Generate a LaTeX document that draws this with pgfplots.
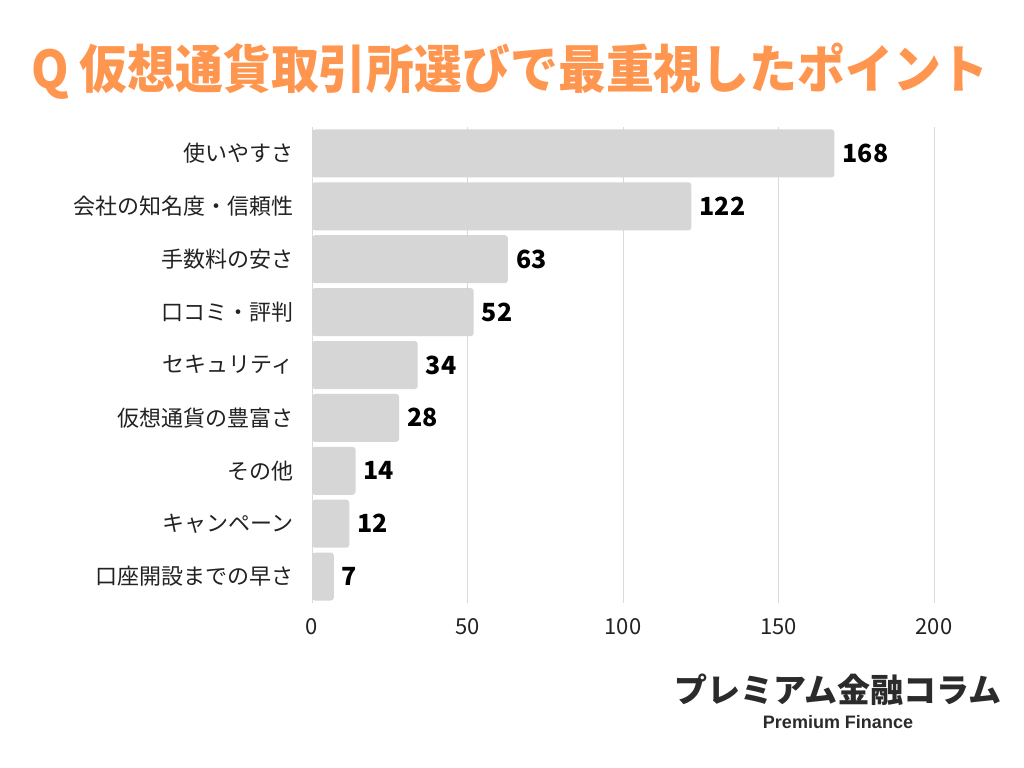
\documentclass[border=0pt]{standalone}
\usepackage{fontspec}
\setmainfont{Noto Sans CJK JP}
\newfontfamily\titlefont[FakeStretch=0.92]{Noto Sans CJK JP}
\newfontfamily\latinfont{Liberation Sans}
\usepackage{pgfplots}
\pgfplotsset{compat=1.18}
\definecolor{titleorange}{HTML}{FF9650}
\definecolor{barfill}{HTML}{D6D6D6}
\definecolor{gridcol}{HTML}{D9D9D9}
\definecolor{darktext}{HTML}{222222}
\definecolor{logotext}{HTML}{2B2B2B}
\begin{document}
\begin{tikzpicture}
\fill[white] (0bp,0bp) rectangle (1024bp,-768bp);
\node[anchor=center,inner sep=0pt,text=titleorange] at (510bp,-71bp)
  {\titlefont\bfseries\fontsize{52bp}{58bp}\selectfont Q 仮想通貨取引所選びで最重視したポイント};
\begin{axis}[
  at={(312bp,-603bp)}, anchor=south west,
  scale only axis, width=622bp, height=476bp,
  xbar, y dir=reverse,
  bar width=48bp,
  xmin=0, xmax=200, ymin=-0.5, ymax=8.5,
  enlargelimits=false,
  axis line style={draw=none},
  tick style={draw=none},
  xmajorgrids, grid style={color=gridcol, line width=1bp},
  xtick={0,50,100,150,200},
  ytick={0,1,2,3,4,5,6,7,8},
  yticklabels={使いやすさ,会社の知名度・信頼性,手数料の安さ,口コミ・評判,セキュリティ,仮想通貨の豊富さ,その他,キャンペーン,口座開設までの早さ},
  yticklabel style={font=\fontsize{22bp}{25bp}\selectfont, text=darktext, inner sep=0pt, xshift=-14bp},
  xticklabel style={font=\fontsize{22bp}{25bp}\selectfont, text=darktext, inner sep=0pt, yshift=-15bp},
  /pgf/number format/assume math mode=true,
  nodes near coords,
  every node near coord/.append style={font=\bfseries\fontsize{25bp}{28bp}\selectfont, text=black, inner sep=0pt, anchor=west, xshift=8bp},
]
\addplot[draw=none, fill=barfill, rounded corners=3bp] coordinates {
  (168,0) (122,1) (63,2) (52,3) (34,4) (28,5) (14,6) (12,7) (7,8)
};
\end{axis}
\node[anchor=center,inner sep=0pt,text=logotext] at (838bp,-690bp)
  {\bfseries\fontsize{33bp}{38bp}\selectfont プレミアム金融コラム};
\node[anchor=center,inner sep=0pt,text=logotext] at (838bp,-722bp)
  {\latinfont\bfseries\fontsize{18bp}{21bp}\selectfont Premium Finance};
\end{tikzpicture}
\end{document}
